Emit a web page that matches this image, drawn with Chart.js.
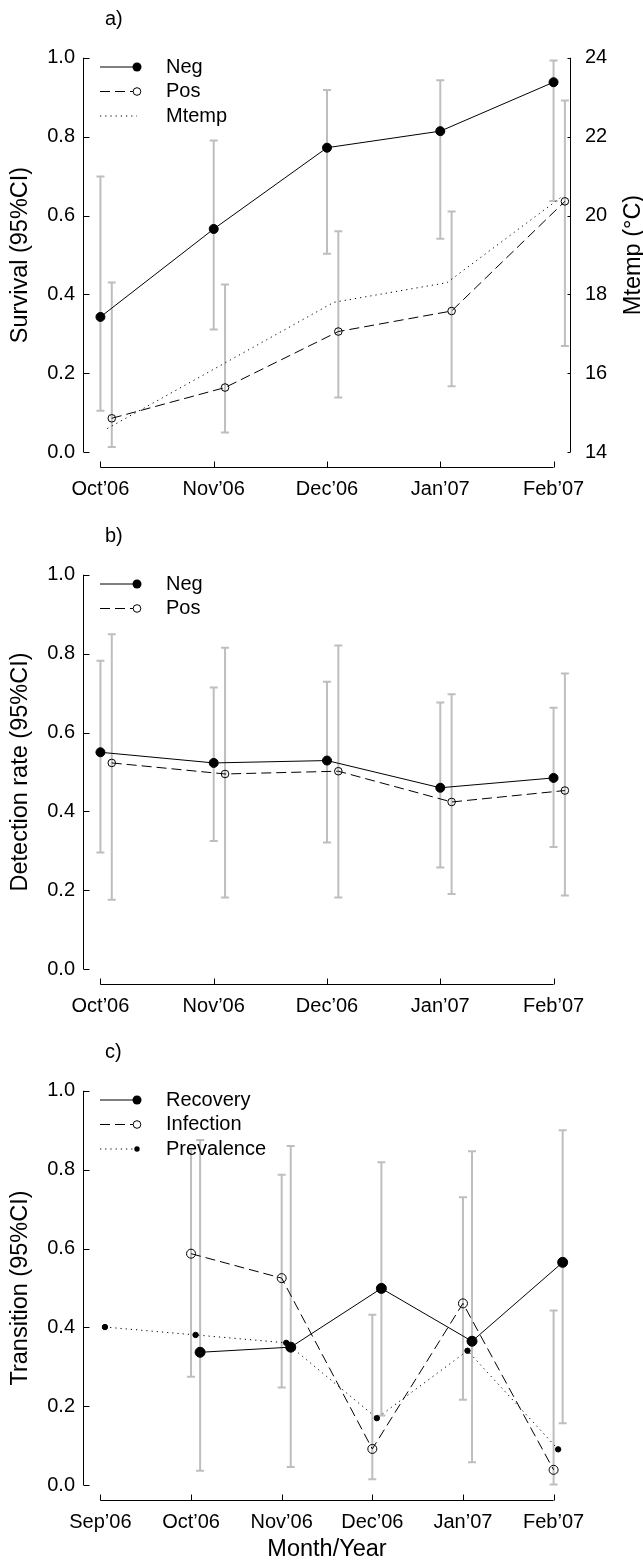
<!DOCTYPE html>
<html>
<head>
<meta charset="utf-8">
<script src="https://cdn.jsdelivr.net/npm/chart.js@4.4.1/dist/chart.umd.min.js"></script>
<style>
    html, body { margin: 0; padding: 0; background: #fff; }
    #wrap { position: relative; width: 643px; height: 1561px; }
    .panel { position: absolute; left: 0; width: 643px; }
</style>
</head>
<body>
<div id="wrap">
    <div class="panel" style="top:0"><canvas id="chartA" width="643" height="516"></canvas></div>
    <div class="panel" style="top:517px"><canvas id="chartB" width="643" height="516"></canvas></div>
    <div class="panel" style="top:1033px"><canvas id="chartC" width="643" height="528"></canvas></div>
</div>
<script>
// ---- data ----
const months = ['Oct’06', 'Nov’06', 'Dec’06', 'Jan’07', 'Feb’07'];
const monthsC = ['Sep’06', 'Oct’06', 'Nov’06', 'Dec’06', 'Jan’07', 'Feb’07'];
const probTicks = [0, 0.2, 0.4, 0.6, 0.8, 1.0];
const tempTicks = [14, 16, 18, 20, 22, 24];

// a) survival
const survNeg   = [0.343, 0.566, 0.772, 0.814, 0.938];
const survNegLo = [0.105, 0.311, 0.503, 0.541, 0.637];
const survNegHi = [0.699, 0.790, 0.918, 0.943, 0.993];
const survPos   = [0.086, 0.164, 0.306, 0.358, 0.636];
const survPosLo = [0.013, 0.050, 0.139, 0.167, 0.269];
const survPosHi = [0.430, 0.425, 0.560, 0.610, 0.892];
const mtemp     = [14.6, 16.2, 17.8, 18.3, 20.45];

// b) detection rate
const detNeg   = [0.550, 0.523, 0.529, 0.460, 0.485];
const detNegLo = [0.296, 0.325, 0.321, 0.258, 0.310];
const detNegHi = [0.782, 0.714, 0.729, 0.676, 0.663];
const detPos   = [0.523, 0.495, 0.502, 0.424, 0.453];
const detPosLo = [0.176, 0.182, 0.182, 0.191, 0.187];
const detPosHi = [0.849, 0.815, 0.821, 0.697, 0.750];

// c) transitions
const recovery    = [null, 0.337, 0.350, 0.499, 0.365, 0.565];
const recoveryLo  = [null, 0.037, 0.046, 0.177, 0.058, 0.157];
const recoveryHi  = [null, 0.875, 0.860, 0.819, 0.847, 0.900];
const infection   = [null, 0.587, 0.525, 0.092, 0.461, 0.039];
const infectionLo = [null, 0.275, 0.248, 0.015, 0.217, 0.002];
const infectionHi = [null, 0.852, 0.787, 0.432, 0.730, 0.443];
const prevalence  = [0.401, 0.381, 0.361, 0.170, 0.341, 0.091];

const GREY = '#bebebe';
const SOLID = [], DASHED = [10, 5], DOTTED = [1.2, 4];
Chart.defaults.font.family = "'Liberation Sans', Arial, Helvetica, sans-serif";
Chart.defaults.color = '#000';

function series(vals, lo, hi, off, style) {
    const keep = vals.map((v, i) => i).filter(i => vals[i] != null);
    return Object.assign({
        data: keep.map(i => ({ x: i + off, y: vals[i] })),
        lo: lo ? keep.map(i => lo[i]) : null,
        hi: hi ? keep.map(i => hi[i]) : null,
        borderColor: '#000',
        borderWidth: 1,
        tension: 0,
        fill: false,
        pointBorderColor: '#000',
        pointBorderWidth: 1
    }, style);
}

const filled = { pointRadius: 4.5, pointBackgroundColor: '#000' };
const open   = { pointRadius: 3.8, pointBackgroundColor: 'rgba(0,0,0,0)' };

function drawMarker(ctx, kind, x, y) {
    if (!kind) return;
    ctx.beginPath();
    if (kind === 'filled') { ctx.arc(x, y, 4.5, 0, Math.PI * 2); ctx.fillStyle = '#000'; ctx.fill(); }
    if (kind === 'small')  { ctx.arc(x, y, 2.7, 0, Math.PI * 2); ctx.fillStyle = '#000'; ctx.fill(); }
    if (kind === 'open')   { ctx.arc(x, y, 3.8, 0, Math.PI * 2); ctx.setLineDash([]); ctx.stroke(); }
}

// R-like axes, error bars, legend
const rStyle = {
    id: 'rStyle',
    beforeDatasetsDraw(chart) {
        const ctx = chart.ctx;
        chart.data.datasets.forEach(ds => {
            if (!ds.lo) return;
            const xs = chart.scales.x, ys = chart.scales[ds.yAxisID || 'y'];
            ctx.save();
            ctx.strokeStyle = GREY;
            ctx.lineWidth = 2;
            ds.data.forEach((p, j) => {
                const x = xs.getPixelForValue(p.x);
                const y1 = ys.getPixelForValue(ds.lo[j]);
                const y2 = ys.getPixelForValue(ds.hi[j]);
                ctx.beginPath();
                ctx.moveTo(x, y1); ctx.lineTo(x, y2);
                ctx.moveTo(x - 4, y1); ctx.lineTo(x + 4, y1);
                ctx.moveTo(x - 4, y2); ctx.lineTo(x + 4, y2);
                ctx.stroke();
            });
            ctx.restore();
        });
    },
    afterDraw(chart, args, opts) {
        const { ctx, chartArea: a, scales } = chart;
        ctx.save();
        ctx.strokeStyle = '#000';
        ctx.fillStyle = '#000';
        ctx.lineWidth = 1;
        ctx.setLineDash([]);

        // left axis, ticks point inwards
        const ys = scales.y;
        const lx = Math.round(a.left) + 0.5;
        ctx.beginPath();
        ctx.moveTo(lx, ys.getPixelForValue(probTicks[0]));
        ctx.lineTo(lx, ys.getPixelForValue(probTicks[probTicks.length - 1]));
        probTicks.forEach(v => {
            const y = Math.round(ys.getPixelForValue(v)) + 0.5;
            ctx.moveTo(lx, y); ctx.lineTo(lx + 6, y);
        });
        // bottom axis
        const xs = scales.x;
        const by = Math.round(a.bottom) - 0.5;
        const n = opts.labels.length - 1;
        ctx.moveTo(xs.getPixelForValue(0), by);
        ctx.lineTo(xs.getPixelForValue(n), by);
        for (let i = 0; i <= n; i++) {
            const x = Math.round(xs.getPixelForValue(i)) + 0.5;
            ctx.moveTo(x, by); ctx.lineTo(x, by - 6);
        }
        // right axis (temperature)
        if (scales.y2) {
            const s2 = scales.y2;
            const rx = Math.round(a.right) - 0.5;
            ctx.moveTo(rx, s2.getPixelForValue(tempTicks[0]));
            ctx.lineTo(rx, s2.getPixelForValue(tempTicks[tempTicks.length - 1]));
            tempTicks.forEach(v => {
                const y = Math.round(s2.getPixelForValue(v)) + 0.5;
                ctx.moveTo(rx, y); ctx.lineTo(rx - 3, y);
            });
        }
        ctx.stroke();

        // right title reads bottom to top, like R
        if (opts.rightTitle) {
            ctx.save();
            ctx.translate(634, (a.top + a.bottom) / 2);
            ctx.rotate(-Math.PI / 2);
            ctx.font = "23.5px 'Liberation Sans', Arial, sans-serif";
            ctx.textAlign = 'center';
            ctx.textBaseline = 'middle';
            ctx.fillText(opts.rightTitle, 0, 0);
            ctx.restore();
        }

        // panel label
        ctx.font = "20px 'Liberation Sans', Arial, sans-serif";
        ctx.textAlign = 'left';
        ctx.textBaseline = 'middle';
        ctx.fillText(opts.panel, 105, 19.5);

        // legend
        opts.legend.forEach((it, i) => {
            const y = 67 + i * 24.5;
            ctx.beginPath();
            ctx.setLineDash(it.dash);
            ctx.moveTo(100, y);
            ctx.lineTo(it.marker ? 133 : 137, y);
            ctx.stroke();
            ctx.setLineDash([]);
            drawMarker(ctx, it.marker, 137, y);
            ctx.fillStyle = '#000';
            ctx.fillText(it.label, 166, y);
        });
        ctx.restore();
    }
};

function xScale(labels, span, h, title) {
    return {
        type: 'linear',
        min: -span,
        max: labels.length - 1 + span,
        grid: { display: false, drawTicks: false },
        border: { display: false },
        afterBuildTicks: s => { s.ticks = labels.map((_, i) => ({ value: i })); },
        afterFit: s => { s.height = h; },
        ticks: { callback: v => labels[v], padding: 9, font: { size: 20 }, maxRotation: 0, autoSkip: false },
        title: title ? { display: true, text: title, font: { size: 23.5, lineHeight: 1 }, padding: { top: 0, bottom: 0 } } : { display: false }
    };
}

function yScale(title) {
    return {
        type: 'linear',
        position: 'left',
        min: -0.04,
        max: 1.04,
        grid: { display: false, drawTicks: false },
        border: { display: false },
        afterBuildTicks: s => { s.ticks = probTicks.map(v => ({ value: v })); },
        afterFit: s => { s.width = 83; },
        ticks: { callback: v => v.toFixed(1), padding: 8, font: { size: 20 } },
        title: { display: true, text: title, font: { size: 23.5, lineHeight: 1 }, padding: { top: 9, bottom: 0 } }
    };
}

function baseOptions(scales, padRight, style) {
    return {
        responsive: false,
        animation: false,
        events: [],
        layout: { padding: { top: 42, right: padRight, left: 0, bottom: 0 } },
        scales: scales,
        plugins: { legend: { display: false }, tooltip: { enabled: false }, rStyle: style }
    };
}

// a) survival + temperature
new Chart(document.getElementById('chartA'), {
    type: 'line',
    data: {
        datasets: [
            series(survNeg, survNegLo, survNegHi, 0, Object.assign({ borderDash: SOLID }, filled)),
            series(survPos, survPosLo, survPosHi, 0.1, Object.assign({ borderDash: DASHED }, open)),
            series(mtemp, null, null, 0.06, { yAxisID: 'y2', borderDash: DOTTED, pointRadius: 0 })
        ]
    },
    options: baseOptions({
        x: xScale(months, 0.154, 48),
        y: yScale('Survival (95%CI)'),
        y2: {
            type: 'linear',
            position: 'right',
            min: 13.6,
            max: 24.4,
            grid: { display: false, drawTicks: false },
            border: { display: false },
            afterBuildTicks: s => { s.ticks = tempTicks.map(v => ({ value: v })); },
            afterFit: s => { s.width = 72; },
            ticks: { padding: 14, font: { size: 20 } }
        }
    }, 0, {
        panel: 'a)',
        labels: months,
        rightTitle: 'Mtemp (°C)',
        legend: [
            { label: 'Neg', dash: SOLID, marker: 'filled' },
            { label: 'Pos', dash: DASHED, marker: 'open' },
            { label: 'Mtemp', dash: DOTTED, marker: null }
        ]
    }),
    plugins: [rStyle]
});

// b) detection rate
new Chart(document.getElementById('chartB'), {
    type: 'line',
    data: {
        datasets: [
            series(detNeg, detNegLo, detNegHi, 0, Object.assign({ borderDash: SOLID }, filled)),
            series(detPos, detPosLo, detPosHi, 0.1, Object.assign({ borderDash: DASHED }, open))
        ]
    },
    options: baseOptions({
        x: xScale(months, 0.154, 48),
        y: yScale('Detection rate (95%CI)')
    }, 72, {
        panel: 'b)',
        labels: months,
        legend: [
            { label: 'Neg', dash: SOLID, marker: 'filled' },
            { label: 'Pos', dash: DASHED, marker: 'open' }
        ]
    }),
    plugins: [rStyle]
});

// c) transitions
new Chart(document.getElementById('chartC'), {
    type: 'line',
    data: {
        datasets: [
            series(recovery, recoveryLo, recoveryHi, 0.1, { borderDash: SOLID, pointRadius: 5, pointBackgroundColor: '#000' }),
            series(infection, infectionLo, infectionHi, 0, { borderDash: DASHED, pointRadius: 4.5, pointBackgroundColor: 'rgba(0,0,0,0)' }),
            series(prevalence, null, null, 0.05, { borderDash: DOTTED, pointRadius: 2.7, pointBackgroundColor: '#000' })
        ]
    },
    options: baseOptions({
        x: xScale(monthsC, 0.192, 60, 'Month/Year'),
        y: yScale('Transition (95%CI)')
    }, 72, {
        panel: 'c)',
        labels: monthsC,
        legend: [
            { label: 'Recovery', dash: SOLID, marker: 'filled' },
            { label: 'Infection', dash: DASHED, marker: 'open' },
            { label: 'Prevalence', dash: DOTTED, marker: 'small' }
        ]
    }),
    plugins: [rStyle]
});
</script>
</body>
</html>
